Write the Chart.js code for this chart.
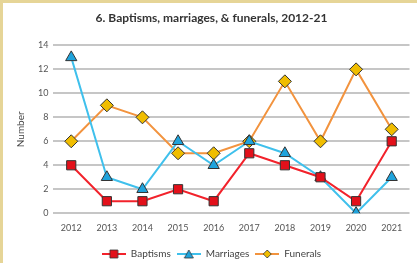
<!DOCTYPE html>
<html>
<head>
<meta charset="utf-8">
<script src="https://cdn.jsdelivr.net/npm/chart.js@4/dist/chart.umd.min.js"></script>
<style>
  html, body { margin: 0; padding: 0; background: #fff; }
  #frame {
    width: 414px; height: 260px;
    border-top: 3px solid #e6d597;
    border-left: 3px solid #e6d597;
    position: relative;
  }
  canvas { display: block; }
</style>
</head>
<body>
<div id="frame"><canvas id="chart" width="414" height="260"></canvas></div>
<script>
var years = ["2012", "2013", "2014", "2015", "2016", "2017", "2018", "2019", "2020", "2021"];
var baptisms = [4, 1, 1, 2, 1, 5, 4, 3, 1, 6];
var marriages = [13, 3, 2, 6, 4, 6, 5, 3, 0, 3];
var funerals = [6, 9, 8, 5, 5, 6, 11, 6, 12, 7];

var fontFamily = "Lato, 'Open Sans', sans-serif";

// small canvas for the legend: a line with the marker in the middle
function legendIcon(lineColor, fillColor, shape) {
    var c = document.createElement("canvas");
    c.width = 24; c.height = 10;
    var g = c.getContext("2d");
    g.strokeStyle = lineColor;
    g.lineWidth = 2;
    g.beginPath(); g.moveTo(0, 5); g.lineTo(24, 5); g.stroke();
    g.fillStyle = fillColor;
    g.strokeStyle = "#333";
    g.lineWidth = 0.8;
    g.beginPath();
    if (shape == "rect") {
        g.rect(8, 1, 8, 8);
    } else if (shape == "triangle") {
        g.moveTo(12, 1); g.lineTo(16.5, 9); g.lineTo(7.5, 9); g.closePath();
    } else {
        g.moveTo(12, 1); g.lineTo(16, 5); g.lineTo(12, 9); g.lineTo(8, 5); g.closePath();
    }
    g.fill(); g.stroke();
    return c;
}

var seriesStyle = [
    { line: "#f2222b", fill: "#e3101a", shape: "rect", radius: 6.5 },
    { line: "#3fc0ec", fill: "#1fa3dc", shape: "triangle", radius: 6.5 },
    { line: "#f2933e", fill: "#f0bd00", shape: "rectRot", radius: 6.5 }
];

new Chart(document.getElementById("chart"), {
    type: "line",
    data: {
        labels: years,
        datasets: [
            { label: "Baptisms", data: baptisms },
            { label: "Marriages", data: marriages },
            { label: "Funerals", data: funerals }
        ].map((ds, i) => Object.assign(ds, {
            borderColor: seriesStyle[i].line,
            backgroundColor: seriesStyle[i].fill,
            pointBackgroundColor: seriesStyle[i].fill,
            pointBorderColor: "#333",
            pointBorderWidth: 1,
            pointStyle: seriesStyle[i].shape,
            pointRadius: seriesStyle[i].radius,
            borderWidth: 2,
            tension: 0
        }))
    },
    options: {
        responsive: false,
        animation: false,
        layout: { padding: { left: 8, right: 5, top: 2, bottom: -6 } },
        plugins: {
            title: {
                display: true,
                text: "6. Baptisms, marriages, & funerals, 2012-21",
                color: "#333",
                font: { family: fontFamily, size: 12, weight: "bold" },
                padding: { top: 6, bottom: 20 }
            },
            legend: {
                position: "bottom",
                labels: {
                    color: "#444",
                    font: { family: fontFamily, size: 10 },
                    usePointStyle: true,
                    pointStyleWidth: 24,
                    boxHeight: 10,
                    padding: 6,
                    generateLabels: (chart) => chart.data.datasets.map((ds, i) => ({
                        text: ds.label,
                        pointStyle: legendIcon(seriesStyle[i].line, seriesStyle[i].fill, seriesStyle[i].shape),
                        fontColor: "#444",
                        lineWidth: 0,
                        datasetIndex: i
                    }))
                }
            },
            tooltip: { enabled: false }
        },
        scales: {
            x: {
                offset: true,
                grid: { display: false },
                border: { display: false },
                ticks: { color: "#555", font: { family: fontFamily, size: 9 }, padding: 1 },
                // extra room between the year labels and the legend
                afterFit: (scale) => { scale.height += 9; }
            },
            y: {
                min: 0,
                max: 14,
                ticks: { stepSize: 2, color: "#555", font: { family: fontFamily, size: 9 }, padding: 5 },
                grid: { color: "#c6c6c6", lineWidth: 2, drawTicks: false },
                border: { display: false },
                title: {
                    display: true,
                    text: "Number",
                    color: "#444",
                    font: { family: fontFamily, size: 10 },
                    padding: { bottom: 6 }
                }
            }
        }
    }
});
</script>
</body>
</html>
